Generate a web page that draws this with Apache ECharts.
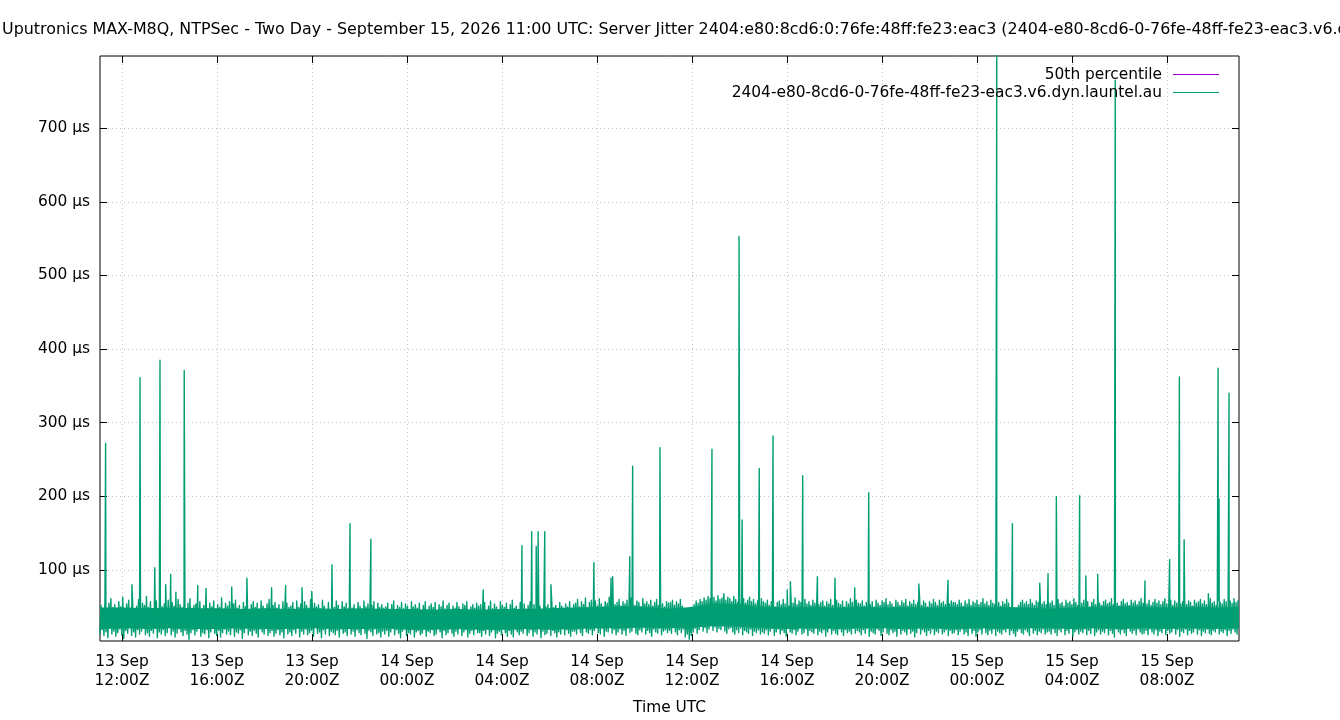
<!DOCTYPE html>
<html><head><meta charset="utf-8">
<script src="https://cdn.jsdelivr.net/npm/echarts@6/dist/echarts.min.js"></script>
<style>html,body{margin:0;padding:0;background:#fff}#c{width:1340px;height:720px}</style>
</head><body><div id="c"></div>
<script>
const TITLE = 'Uputronics MAX-M8Q, NTPSec - Two Day - September 15, 2026 11:00 UTC: Server Jitter 2404:e80:8cd6:0:76fe:48ff:fe23:eac3 (2404-e80-8cd6-0-76fe-48ff-fe23-eac3.v6.dyn.launtel.au)';
const SERIES_NAME = '2404-e80-8cd6-0-76fe-48ff-fe23-eac3.v6.dyn.launtel.au';
const P50_NAME = '50th percentile';

// x in hours since 13 Sep 00:00 UTC
const X_MIN = 11.074, X_MAX = 59.03;
const Y_MIN = 3.6, Y_MAX = 798;

const xTickHours = [12, 16, 20, 24, 28, 32, 36, 40, 44, 48, 52, 56];
const xTickLabels = ['13 Sep\n12:00Z', '13 Sep\n16:00Z', '13 Sep\n20:00Z', '14 Sep\n00:00Z',
  '14 Sep\n04:00Z', '14 Sep\n08:00Z', '14 Sep\n12:00Z', '14 Sep\n16:00Z', '14 Sep\n20:00Z',
  '15 Sep\n00:00Z', '15 Sep\n04:00Z', '15 Sep\n08:00Z'];
const yTicks = [100, 200, 300, 400, 500, 600, 700];
const yTickLabels = ['100 µs', '200 µs', '300 µs', '400 µs', '500 µs', '600 µs', '700 µs'];

// noise band: low / high excursions per 5-minute slot (µs)
const jitterLow = [
  14,19,11,16,8,21,13,17,10,15,20,12,7,18,14,22,11,16,9,19,13,17,24,12,15,10,18,14,21,8,16,13,19,11,15,23,12,17,9,14,20,16,11,18,13,6,15,19,
  12,17,21,10,15,13,19,8,16,22,14,11,18,9,15,20,13,17,12,24,10,16,14,19,7,15,21,12,17,11,18,14,9,20,16,13,22,11,15,18,10,14,19,12,16,8,21,13,
  16,11,19,14,22,9,17,13,20,12,15,18,10,23,14,16,8,19,13,21,11,17,15,12,18,9,20,14,16,11,22,13,17,10,19,15,12,21,14,7,18,16,11,20,13,15,9,17,
  13,18,10,16,21,12,19,14,8,17,22,11,15,13,20,9,16,18,12,14,23,10,17,15,19,11,13,21,16,8,18,12,15,20,14,10,17,13,22,11,16,19,9,14,18,12,21,15,
  15,10,18,13,21,11,16,19,8,14,17,12,22,15,10,18,13,9,20,16,12,17,14,23,11,15,19,10,16,13,21,8,17,12,14,20,11,18,15,9,16,13,22,12,19,14,10,17,
  17,13,20,15,11,22,16,14,19,12,18,25,15,13,21,10,17,16,23,14,19,12,16,20,13,18,11,21,15,17,24,14,12,19,16,22,13,18,15,10,20,16,14,21,12,17,19,15,
  18,14,22,16,12,19,15,20,9,13,6,11,16,21,14,19,24,17,22,15,20,26,18,23,16,21,19,24,17,14,20,22,16,13,19,15,21,12,18,16,14,20,11,17,15,19,13,16,
  14,19,12,17,21,11,16,20,13,18,15,10,22,16,14,19,12,17,23,13,15,20,11,18,16,14,21,12,17,15,19,10,16,22,13,18,14,12,20,16,11,19,15,17,13,21,14,18,
  16,12,19,14,21,10,17,15,13,20,18,11,16,22,14,12,19,15,17,10,21,13,18,16,12,20,14,17,9,15,22,13,19,16,11,18,14,20,12,17,15,21,13,16,19,11,18,14,
  15,19,12,17,20,13,16,11,21,14,18,10,16,19,13,22,15,12,18,14,20,11,17,15,13,19,16,21,12,18,14,10,17,20,15,13,19,16,11,22,14,18,12,17,15,20,13,16,
  17,13,20,15,11,19,16,22,12,18,14,21,10,16,19,13,17,15,20,12,18,14,23,11,16,19,13,17,15,21,12,18,14,9,20,16,13,19,15,11,22,17,14,18,12,20,16,13,
  14,18,12,20,16,13,19,11,17,15,21,12,18,14,16,22,13,19,10,17,15,20,12,18,14,16,21,13,19,11,17,15,20,14,12,18,16,22,13,17,15,19,11,18,14,20,16,13
];
const jitterHigh = [
  52,47,58,44,55,61,49,53,46,57,50,63,45,54,59,48,56,43,51,60,47,55,52,64,49,57,45,53,58,46,62,50,54,48,59,44,56,51,47,60,53,49,57,45,55,61,48,52,
  54,48,57,45,52,60,47,55,50,58,44,53,49,62,46,55,51,57,43,54,59,48,52,46,56,50,61,45,53,57,49,55,44,58,51,47,54,60,46,52,56,48,53,45,57,50,55,49,
  51,56,46,58,49,54,44,57,52,48,60,45,55,50,53,47,59,51,46,56,43,54,49,58,52,45,57,50,55,47,61,48,53,46,56,51,44,58,50,54,47,52,57,45,55,49,53,48,
  50,55,46,53,58,44,52,49,56,47,54,51,45,57,50,53,48,55,43,52,57,46,51,54,49,56,45,53,50,58,47,52,55,44,51,48,56,50,46,54,52,57,45,50,53,48,55,51,
  53,48,56,45,51,58,47,54,50,44,57,52,49,55,46,53,59,48,51,45,56,50,54,47,52,57,44,53,49,55,51,46,58,50,53,47,55,49,52,45,56,51,48,54,50,57,46,53,
  55,60,50,57,53,62,48,56,59,52,58,51,61,54,49,57,55,63,50,58,53,56,60,51,57,54,59,49,62,55,52,58,56,50,61,54,57,53,59,51,56,60,52,58,54,50,57,55,
  56,59,52,57,54,60,51,48,44,47,46,50,53,58,55,60,57,62,59,64,61,67,63,58,65,60,62,68,59,63,61,57,64,60,56,62,58,61,55,59,63,57,60,54,58,56,61,57,
  55,59,52,57,61,50,56,58,53,60,54,57,51,59,55,62,53,58,56,50,60,54,57,52,59,55,61,53,56,58,51,57,54,60,52,56,59,55,53,58,50,57,54,61,56,52,59,55,
  54,58,51,56,60,53,57,50,59,55,52,58,56,61,53,57,54,50,59,56,52,58,55,60,51,57,54,59,53,56,62,52,58,55,50,57,54,60,56,52,59,55,57,53,61,54,58,56,
  56,53,59,55,51,58,54,60,52,57,55,59,53,56,61,54,57,52,59,55,53,58,56,51,57,54,60,55,46,44,47,45,52,56,59,54,57,53,60,55,52,58,56,61,54,57,53,59,
  55,58,52,57,60,54,56,51,59,55,57,53,61,56,52,58,55,59,54,57,50,56,60,53,58,55,52,57,59,54,56,61,53,58,55,51,57,60,54,56,52,59,55,58,53,57,61,55,
  57,54,59,52,56,60,55,58,53,57,61,54,56,59,52,58,55,60,54,57,62,53,58,56,51,59,55,57,60,54,58,53,56,61,55,57,52,59,56,54,60,57,53,58,55,61,56,59
];
// dense core of the band, hourly (µs)
const coreLow = [20,21,20,21,20,20,21,20,20,21,20,20,21,19,19,20,19,19,20,19,20,21,21,22,21,
  22,24,23,21,20,21,20,21,21,20,21,20,21,20,21,21,20,21,20,21,20,21,20,21];
const coreHigh = [49,49,48,49,48,48,47,48,47,48,47,48,47,47,46,47,46,47,47,48,49,50,51,50,47,
  50,55,53,50,49,50,49,50,49,50,49,50,49,50,49,47,49,50,51,50,49,50,49,50];
// isolated spikes: [hours since 13 Sep 00:00, µs]
const spikes = [
  [11.31,272],[12.42,80],[12.76,361],[13.38,103],[13.60,385],[13.84,80],[14.05,94],[14.27,70],
  [14.62,371],[15.19,79],[15.54,75],[16.62,77],[17.26,89],[18.30,76],[18.89,79],[19.58,76],
  [19.99,71],[20.84,107],[21.60,163],[22.48,142],[27.21,73],[28.84,133],[29.25,152],[29.44,132],
  [29.52,152],[29.80,152],[30.06,80],[31.87,110],[32.59,89],[32.66,91],[33.38,118],[33.50,241],
  [34.65,266],[36.84,264],[37.98,553],[38.11,168],[38.83,238],[39.41,282],[40.01,73],[40.14,84],
  [40.66,228],[41.28,91],[42.02,89],[42.85,76],[43.44,205],[45.55,81],[46.78,86],[48.83,800],
  [49.49,163],[50.64,82],[50.99,95],[51.34,200],[52.32,201],[52.58,92],[53.08,94],[53.82,765],
  [55.07,85],[56.11,114],[56.52,362],[56.72,141],[57.74,68],[58.15,374],[58.19,196],[58.61,340]
];
const P50_VALUE = 33;

const GREEN = '#009e73', PURPLE = '#9400d3';
const FONT = 'DejaVu Sans';

// build the jitter line
const step = (X_MAX - X_MIN) / jitterLow.length;
const jitterPts = [];
jitterLow.forEach((lo, i) => {
  const t = X_MIN + i * step;
  jitterPts.push([t, lo]);
  jitterPts.push([t + step / 2, jitterHigh[i]]);
});
spikes.forEach(s => jitterPts.push([s[0], s[1]]));
jitterPts.sort((a, b) => a[0] - b[0]);

const coreStep = (X_MAX - X_MIN) / (coreLow.length - 1);
const coreData = coreLow.map((lo, i) => [X_MIN + i * coreStep, coreHigh[i], lo]);

const gridLine = { show: true, lineStyle: { color: '#c4c4c4', type: [1, 3], width: 1 } };

const chart = echarts.init(document.getElementById('c'), null, { renderer: 'canvas' });
chart.setOption({
  animation: false,
  backgroundColor: '#fff',
  title: {
    text: TITLE, left: 0, top: 22, padding: [0, 0, 0, 2],
    textStyle: { fontFamily: FONT, fontSize: 15.9, fontWeight: 'normal', color: '#000' }
  },
  legend: {
    data: [
      { name: P50_NAME, itemStyle: { color: PURPLE } },
      { name: SERIES_NAME, itemStyle: { color: GREEN } }
    ],
    orient: 'vertical', align: 'right', right: 116, top: 62,
    icon: 'rect', itemWidth: 46, itemHeight: 1, itemGap: 3,
    textStyle: { fontFamily: FONT, fontSize: 15.4, color: '#000', padding: [0, 6, 0, 0] },
    selectedMode: false
  },
  grid: { left: 100, right: 101, top: 56, bottom: 79, show: true, borderColor: '#000', borderWidth: 1, containLabel: false },
  xAxis: [{
    type: 'value', min: X_MIN, max: X_MAX,
    name: 'Time UTC', nameLocation: 'middle', nameGap: 59,
    nameTextStyle: { fontFamily: FONT, fontSize: 15.4, color: '#000' },
    axisLine: { show: false },
    axisTick: { show: true, inside: true, length: 7, customValues: xTickHours, lineStyle: { color: '#000' } },
    axisLabel: { customValues: xTickHours, margin: 11, fontFamily: FONT, fontSize: 15.4, color: '#000', lineHeight: 19,
      formatter: v => xTickLabels[xTickHours.indexOf(Math.round(v))] },
    splitLine: gridLine
  }, {
    type: 'value', position: 'top', min: X_MIN, max: X_MAX,
    axisLine: { show: false },
    axisTick: { show: true, inside: true, length: 7, customValues: xTickHours, lineStyle: { color: '#000' } },
    axisLabel: { show: false }, splitLine: { show: false }
  }],
  yAxis: [{
    type: 'value', min: Y_MIN, max: Y_MAX,
    axisLine: { show: false },
    axisTick: { show: true, inside: true, length: 7, customValues: yTicks, lineStyle: { color: '#000' } },
    axisLabel: { customValues: yTicks, margin: 10, fontFamily: FONT, fontSize: 15.4, color: '#000',
      formatter: v => yTickLabels[yTicks.indexOf(Math.round(v))] },
    splitLine: gridLine
  }, {
    type: 'value', position: 'right', min: Y_MIN, max: Y_MAX,
    axisLine: { show: false },
    axisTick: { show: true, inside: true, length: 7, customValues: yTicks, lineStyle: { color: '#000' } },
    axisLabel: { show: false }, splitLine: { show: false }
  }],
  series: [
    { name: P50_NAME, type: 'line', data: [[X_MIN, P50_VALUE], [X_MAX, P50_VALUE]], showSymbol: false,
      itemStyle: { color: PURPLE }, lineStyle: { color: PURPLE, width: 1 }, z: 1 },
    { name: 'core', type: 'custom', data: coreData, encode: { x: 0, y: [1, 2] }, z: 2, silent: true, clip: true,
      renderItem: (params, api) => {
        if (params.dataIndex !== 0) return null;
        const top = coreData.map(d => api.coord([d[0], d[1]]));
        const bot = coreData.map(d => api.coord([d[0], d[2]])).reverse();
        return { type: 'polygon', shape: { points: top.concat(bot) }, style: { fill: GREEN } };
      }
    },
    { name: SERIES_NAME, type: 'line', data: jitterPts, showSymbol: false, sampling: null,
      itemStyle: { color: GREEN }, lineStyle: { color: GREEN, width: 1.4, join: 'round', cap: 'butt' }, z: 3 }
  ]
});
</script>
</body></html>
